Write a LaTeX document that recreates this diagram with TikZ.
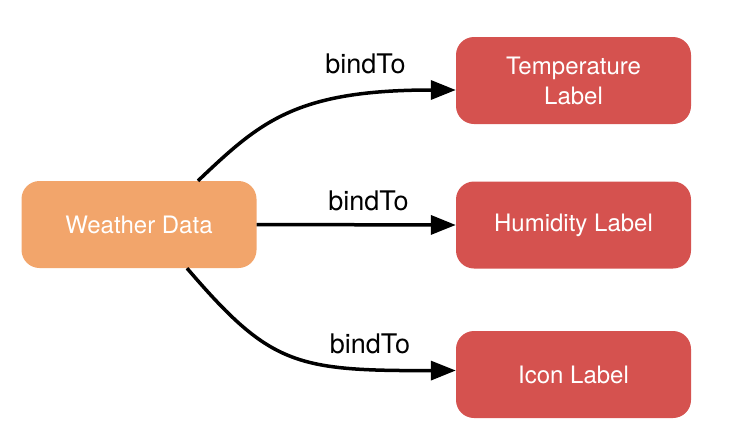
\documentclass[tikz,border=0pt]{standalone}
\usepackage{fontspec}
\setmainfont{TeX Gyre Heros}
\usetikzlibrary{arrows.meta}
\definecolor{wdorange}{HTML}{F2A56B}
\definecolor{lblred}{HTML}{D5524F}
\begin{document}
\begin{tikzpicture}[x=1pt,y=-1pt,
  box/.style={rounded corners=18pt, inner sep=0pt, minimum width=235pt, minimum height=87pt,
    text=white, align=center, font=\fontsize{24}{30}\selectfont},
  srcbox/.style={box, fill=wdorange},
  dstbox/.style={box, fill=lblred},
  conn/.style={line width=3.5pt, -{Triangle[length=25pt,width=19pt]}},
  edgelbl/.style={anchor=base, inner sep=0pt, font=\fontsize{27}{32}\selectfont}]
\useasboundingbox (0,0) rectangle (738,442);
\node[srcbox] (wd) at (139,224.5) {Weather Data};
\node[dstbox] (temp) at (573.5,80.5) {Temperature\\Label};
\node[dstbox] (hum) at (573.5,225) {Humidity Label};
\node[dstbox] (icon) at (573.5,374.5) {Icon Label};
\draw[conn] ([xshift=59pt]wd.north) .. controls (260,122) and (295,90) .. ([yshift=-9.5pt]temp.west);
\draw[conn] (wd.east) -- (hum.west);
\draw[conn] ([xshift=48pt]wd.south) .. controls (270,365) and (295,371) .. ([yshift=4pt]icon.west);
\node[edgelbl] (l1) at (365.5,73) {bindTo};
\node[edgelbl] (l2) at (368.5,210) {bindTo};
\node[edgelbl] (l3) at (370,353) {bindTo};
\end{tikzpicture}
\end{document}
